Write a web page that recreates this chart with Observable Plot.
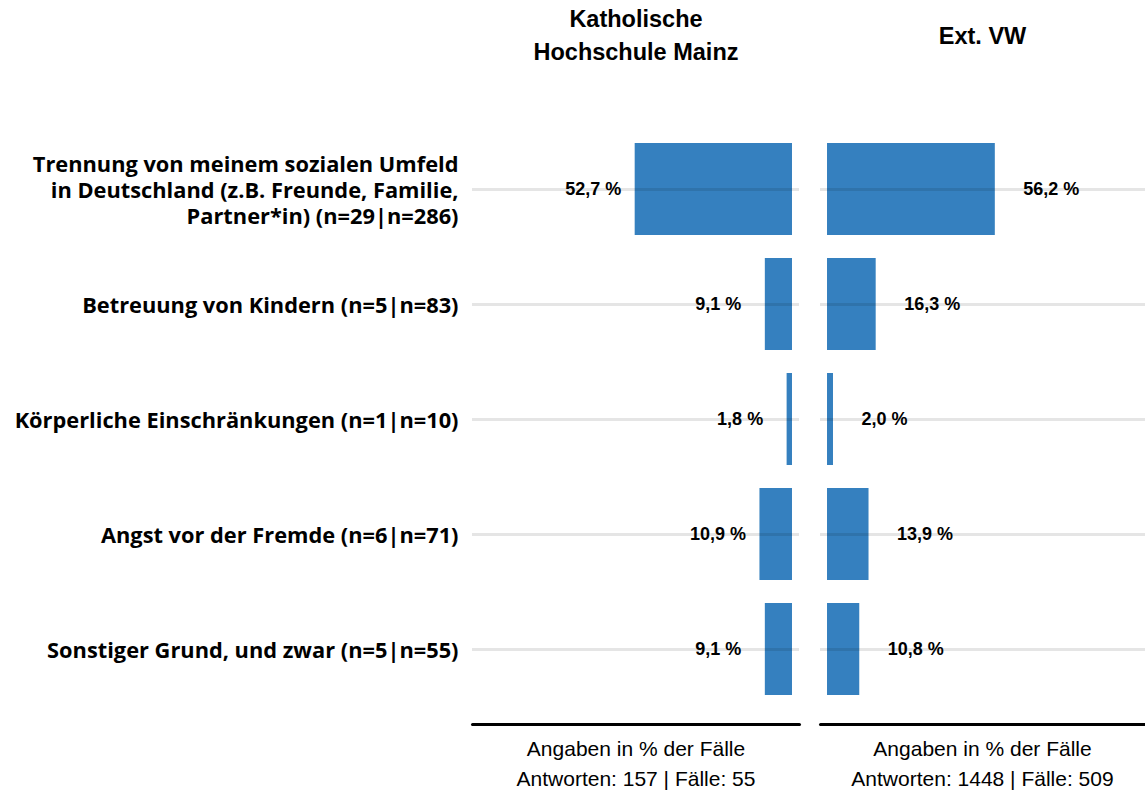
<!DOCTYPE html>
<html>
<head>
<meta charset="utf-8">
<script src="https://cdn.jsdelivr.net/npm/d3@7"></script>
<script src="https://cdn.jsdelivr.net/npm/@observablehq/plot@0.6"></script>
<style>
  html, body { margin: 0; padding: 0; background: #fff; }
  #wrap { position: relative; width: 1145px; height: 793px; overflow: hidden; }
  .abs { position: absolute; }
  .hdr { font-family: "Liberation Sans", Arial, sans-serif; font-weight: bold; font-size: 23.5px; line-height: 33px; text-align: center; color: #000; }
  .cap { font-family: "Liberation Sans", Arial, sans-serif; font-size: 21px; line-height: 30px; text-align: center; color: #000; }
</style>
</head>
<body>
<div id="wrap"></div>
<script>
const categories = [
  "Trennung von meinem sozialen Umfeld\nin Deutschland (z.B. Freunde, Familie,\nPartner*in) (n=29|n=286)",
  "Betreuung von Kindern (n=5|n=83)",
  "Körperliche Einschränkungen (n=1|n=10)",
  "Angst vor der Fremde (n=6|n=71)",
  "Sonstiger Grund, und zwar (n=5|n=55)"
];
const khmValues = [52.7, 9.1, 1.8, 10.9, 9.1];
const vwValues = [56.2, 16.3, 2.0, 13.9, 10.8];
const panelTitles = ["Katholische\nHochschule Mainz", "Ext. VW"];
const captionLine1 = ["Angaben in % der Fälle", "Angaben in % der Fälle"];
const captionLine2 = ["Antworten: 157 | Fälle: 55", "Antworten: 1448 | Fälle: 509"];

const khm = categories.map((c, i) => ({cat: c, value: khmValues[i]}));
const vw = categories.map((c, i) => ({cat: c, value: vwValues[i]}));
const fmt = v => d3.format(".1f")(v).replace(".", ",") + " %";

const barColor = "#3580bf";
const H = 793, MT = 119, MB = 74;
const wrap = document.getElementById("wrap");

const left = Plot.plot({
  width: 800, height: H,
  marginTop: MT, marginBottom: MB, marginLeft: 472, marginRight: 1,
  style: {fontFamily: "'Open Sans', sans-serif", background: "transparent", overflow: "visible"},
  x: {domain: [-2.35, 107.2], reverse: true, axis: null},
  y: {domain: categories, padding: 0.2, label: null},
  marks: [
    Plot.barX(khm, {x: "value", y: "cat", fill: barColor}),
    Plot.gridY({stroke: "black", strokeOpacity: 0.1, strokeWidth: 3}),
    Plot.axisY({tickSize: 0, tickPadding: 14, fontSize: 21.8, fontWeight: "bold", lineHeight: 1.19, fill: "#000", label: null}),
    Plot.text(khm, {x: "value", y: "cat", text: d => fmt(d.value), textAnchor: "start", dx: -70,
      fontWeight: "bold", fontSize: 18, fontFamily: "'Liberation Sans', Arial, sans-serif", fill: "#000"}),
    Plot.frame({anchor: "bottom", stroke: "black", strokeWidth: 3, dy: 5, strokeLinecap: "round"})
  ]
});

const right = Plot.plot({
  width: 345, height: H,
  marginTop: MT, marginBottom: MB, marginLeft: 20, marginRight: 0,
  style: {fontFamily: "'Liberation Sans', Arial, sans-serif", background: "transparent", overflow: "visible"},
  x: {domain: [-2.35, 106.5], axis: null},
  y: {domain: categories, padding: 0.2, axis: null},
  marks: [
    Plot.barX(vw, {x: "value", y: "cat", fill: barColor}),
    Plot.gridY({stroke: "black", strokeOpacity: 0.1, strokeWidth: 3}),
    Plot.text(vw, {x: "value", y: "cat", text: d => fmt(d.value), textAnchor: "start", dx: 28,
      fontWeight: "bold", fontSize: 18, fill: "#000"}),
    Plot.frame({anchor: "bottom", stroke: "black", strokeWidth: 3, dy: 5, strokeLinecap: "round"})
  ]
});

left.style.position = "absolute"; left.style.left = "0px"; left.style.top = "0px";
right.style.position = "absolute"; right.style.left = "800px"; right.style.top = "0px";
wrap.appendChild(left);
wrap.appendChild(right);

function addDiv(cls, html, l, t, w) {
  const d = document.createElement("div");
  d.className = "abs " + cls;
  d.style.left = l + "px"; d.style.top = t + "px"; d.style.width = w + "px";
  d.innerText = html;
  wrap.appendChild(d);
}
addDiv("hdr", panelTitles[0], 471, 3, 330);
addDiv("hdr", panelTitles[1], 820, 20, 325);
addDiv("cap", captionLine1[0] + "\n" + captionLine2[0], 471, 734, 330);
addDiv("cap", captionLine1[1] + "\n" + captionLine2[1], 820, 734, 325);
</script>
</body>
</html>
